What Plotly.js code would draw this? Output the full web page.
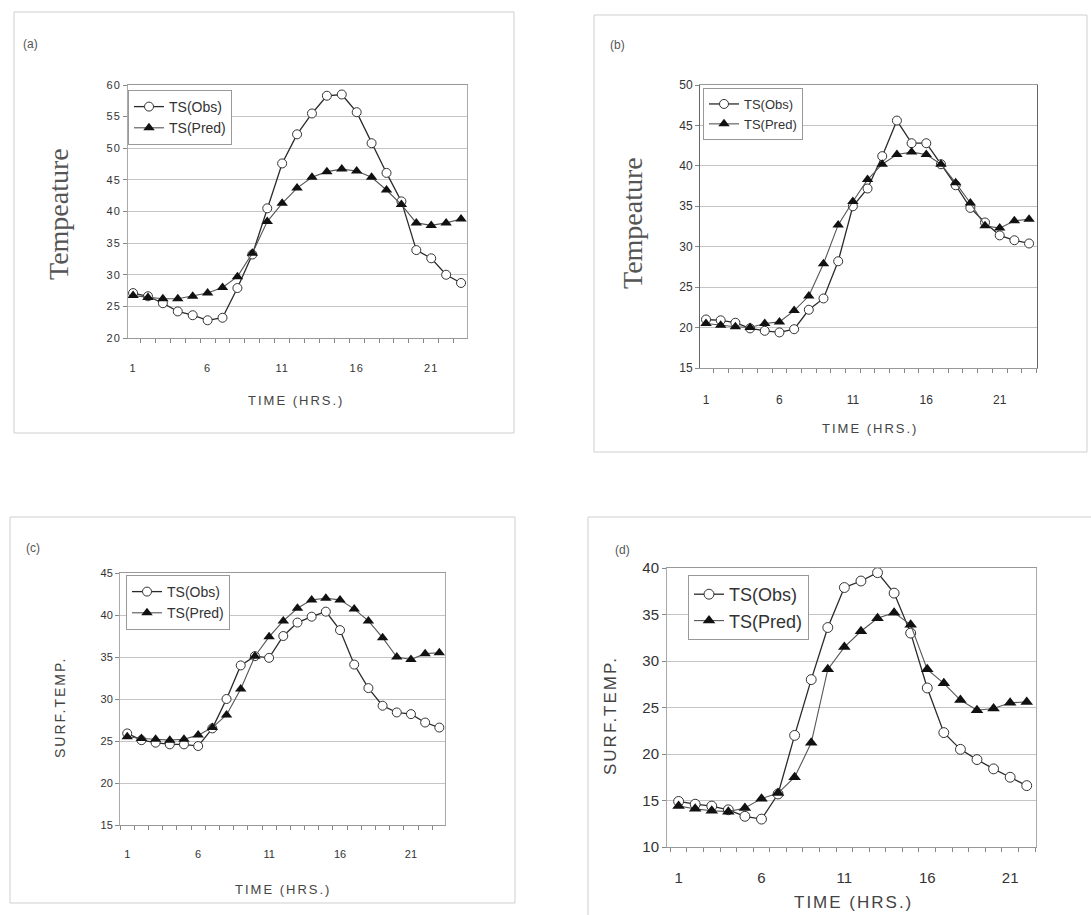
<!DOCTYPE html>
<html>
<head>
<meta charset="utf-8">
<script src="https://cdn.plot.ly/plotly-3.0.1.min.js"></script>
<style>
  html, body { margin: 0; padding: 0; background: #ffffff; }
  #chart { width: 1091px; height: 915px; }
  #chart .xtick text, #chart .ytick text { letter-spacing: 1px; }
</style>
</head>
<body>
<div id="chart"></div>
<script>
// ---------- DATA ----------
const hours23 = [1,2,3,4,5,6,7,8,9,10,11,12,13,14,15,16,17,18,19,20,21,22,23];
const hours22 = [1,2,3,4,5,6,7,8,9,10,11,12,13,14,15,16,17,18,19,20,21,22];

const obsA  = [27.1,26.6,25.5,24.2,23.6,22.8,23.2,27.9,33.2,40.5,47.6,52.2,55.5,58.3,58.5,55.7,50.8,46.1,41.6,33.9,32.6,30.0,28.7];
const predA = [26.7,26.4,26.2,26.2,26.6,27.1,28.0,29.7,33.4,38.4,41.3,43.7,45.4,46.3,46.7,46.4,45.4,43.4,41.1,38.2,37.8,38.2,38.8];

const obsB  = [21.0,20.9,20.6,19.9,19.6,19.4,19.8,22.2,23.6,28.2,35.0,37.2,41.2,45.6,42.8,42.8,40.2,37.6,34.8,33.0,31.4,30.8,30.4];
const predB = [20.5,20.3,20.1,20.0,20.5,20.7,22.1,23.9,27.9,32.7,35.6,38.3,40.2,41.4,41.7,41.4,40.2,37.9,35.4,32.6,32.3,33.2,33.4];

const obsC  = [25.9,25.1,24.8,24.6,24.6,24.4,26.5,30.0,34.0,35.1,34.9,37.5,39.1,39.8,40.4,38.2,34.1,31.3,29.2,28.4,28.2,27.2,26.6];
const predC = [25.5,25.3,25.2,25.1,25.2,25.7,26.6,28.1,31.2,35.1,37.4,39.3,40.8,41.8,42.0,41.8,40.7,39.3,37.3,35.0,34.7,35.4,35.5];

const obsD  = [14.9,14.6,14.4,14.0,13.3,13.0,15.7,22.0,28.0,33.6,37.9,38.6,39.5,37.3,33.0,27.1,22.3,20.5,19.4,18.4,17.5,16.6];
const predD = [14.4,14.1,13.9,13.8,14.2,15.2,15.8,17.5,21.2,29.1,31.5,33.2,34.6,35.2,33.9,29.1,27.6,25.8,24.7,24.9,25.5,25.6];

const xTickVals = [1,6,11,16,21];
const xTickText = ['1','6','11','16','21'];
const obsName = 'TS(Obs)';
const predName = 'TS(Pred)';
const panelLabels = ['(a)','(b)','(c)','(d)'];
const yTitles = ['Tempeature','Tempeature','SURF.TEMP.','SURF.TEMP.'];
const xTitle = 'TIME (HRS.)';

// ---------- LAYOUT HELPERS ----------
const W = 1091, H = 915;
const PX = x => x / W;
const PY = y => 1 - y / H;

// plot areas in pixels [left, top, right, bottom]
const areas = [
  [128, 85, 467, 338],
  [700, 85, 1037, 368],
  [120, 573, 445, 825],
  [667, 568, 1036, 847]
];
const xRanges = [[0.66, 23.4],[0.59, 23.54],[0.49, 23.4],[0.3, 22.56]];
const yRanges = [[20, 60],[15, 50],[15, 45],[10, 40]];
const tickSizes = [11, 12, 11, 15];
const xLabelStandoff = [20, 21, 19, 17];
const markerScale = [1, 1, 1, 1.1];

const datasets = [
  [hours23, obsA, predA],
  [hours23, obsB, predB],
  [hours23, obsC, predC],
  [hours22, obsD, predD]
];

const traces = [];
const layout = {
  width: W, height: H,
  margin: {l: 0, r: 0, t: 0, b: 0},
  paper_bgcolor: '#ffffff',
  plot_bgcolor: '#ffffff',
  font: {family: 'Liberation Sans, Arial, sans-serif', color: '#333'},
  shapes: [],
  annotations: []
};

datasets.forEach((ds, i) => {
  const n = i === 0 ? '' : String(i + 1);
  const xa = 'x' + n, ya = 'y' + n;
  const lg = i === 0 ? 'legend' : 'legend' + (i + 1);
  const ms = markerScale[i];
  traces.push({
    x: ds[0], y: ds[1], xaxis: xa, yaxis: ya, legend: lg,
    name: obsName, type: 'scatter', mode: 'lines+markers',
    line: {color: '#2a2a2a', width: 1.3},
    marker: {symbol: 'circle', size: 9 * ms, color: '#ffffff', line: {color: '#333', width: 1}}
  });
  traces.push({
    x: ds[0], y: ds[2], xaxis: xa, yaxis: ya, legend: lg,
    name: predName, type: 'scatter', mode: 'lines+markers',
    line: {color: '#555', width: 1.1},
    marker: {symbol: 'triangle-up', size: 10 * ms, color: '#111'}
  });

  const a = areas[i];
  layout['xaxis' + n] = {
    domain: [PX(a[0]), PX(a[2])], anchor: ya,
    range: xRanges[i], tickmode: 'array', tickvals: xTickVals, ticktext: xTickText,
    ticks: '', ticklabelstandoff: xLabelStandoff[i], showgrid: false, zeroline: false,
    showline: true, linecolor: '#999', linewidth: 1, mirror: true,
    tickfont: {size: tickSizes[i], color: '#333'},
    minor: {ticks: 'outside', tick0: 0.5, dtick: 1, ticklen: 4, tickcolor: '#888', showgrid: false}
  };
  layout['yaxis' + n] = {
    domain: [PY(a[3]), PY(a[1])], anchor: xa,
    range: yRanges[i], dtick: 5, tick0: 0,
    ticks: 'outside', ticklen: 4, tickcolor: '#888',
    showgrid: true, gridcolor: '#c4c4c4', gridwidth: 1, zeroline: false,
    showline: true, linecolor: i === 1 ? '#666' : '#aaa', linewidth: 1, mirror: true,
    tickfont: {size: tickSizes[i], color: '#333'}
  };
});

// legends
const legendPos = [[128, 90], [703, 88], [126, 575], [688, 575]];
const legendFont = [14, 13, 14, 18];
legendPos.forEach((p, i) => {
  const key = i === 0 ? 'legend' : 'legend' + (i + 1);
  layout[key] = {
    x: PX(p[0]), y: PY(p[1]), xanchor: 'left', yanchor: 'top',
    bgcolor: '#ffffff', bordercolor: '#999', borderwidth: 1,
    font: {size: legendFont[i], color: '#333'},
    tracegroupgap: 0, itemwidth: 30
  };
});

// outer panel frames
const frames = [[14, 12, 514, 433], [594, 15, 1087, 452], [10, 517, 515, 903], [588, 517, 1100, 925]];
frames.forEach(f => {
  layout.shapes.push({type: 'rect', xref: 'paper', yref: 'paper',
    x0: PX(f[0]), x1: PX(f[2]), y0: PY(f[3]), y1: PY(f[1]),
    line: {color: '#cfcfcf', width: 1}, fillcolor: 'rgba(0,0,0,0)'});
});

// titles and panel labels
const yTitlePos = [[58, 214], [632, 223], [60, 708], [610, 716]];
const yTitleFont = [
  {family: 'Liberation Serif, Times New Roman, serif', size: 28, color: '#555'},
  {family: 'Liberation Serif, Times New Roman, serif', size: 28, color: '#555'},
  {family: 'Liberation Sans, Arial, sans-serif', size: 14, color: '#444'},
  {family: 'Liberation Sans, Arial, sans-serif', size: 17, color: '#444'}
];
const xTitlePos = [[296, 400], [870, 428], [283, 889], [853, 902]];
const xTitleSize = [13, 13, 13, 17];
const labelPos = [[30, 44], [617, 45], [33, 548], [622, 550]];

for (let i = 0; i < 4; i++) {
  layout.annotations.push({xref: 'paper', yref: 'paper', showarrow: false,
    x: PX(yTitlePos[i][0]), y: PY(yTitlePos[i][1]), xanchor: 'center', yanchor: 'middle',
    textangle: -90, text: yTitles[i], font: yTitleFont[i]});
  layout.annotations.push({xref: 'paper', yref: 'paper', showarrow: false,
    x: PX(xTitlePos[i][0]), y: PY(xTitlePos[i][1]), xanchor: 'center', yanchor: 'middle',
    text: xTitle, font: {size: xTitleSize[i], color: '#444'}});
  layout.annotations.push({xref: 'paper', yref: 'paper', showarrow: false,
    x: PX(labelPos[i][0]), y: PY(labelPos[i][1]), xanchor: 'center', yanchor: 'middle',
    text: panelLabels[i], font: {size: 12, color: '#555'}});
}

Plotly.newPlot('chart', traces, layout, {displayModeBar: false, staticPlot: true}).then(gd => {
  gd.querySelectorAll('.annotation-text').forEach(t => {
    const s = t.textContent;
    if (s === xTitle) t.style.letterSpacing = '2px';
    else if (s === 'SURF.TEMP.') t.style.letterSpacing = '2px';
  });
});
</script>
</body>
</html>
